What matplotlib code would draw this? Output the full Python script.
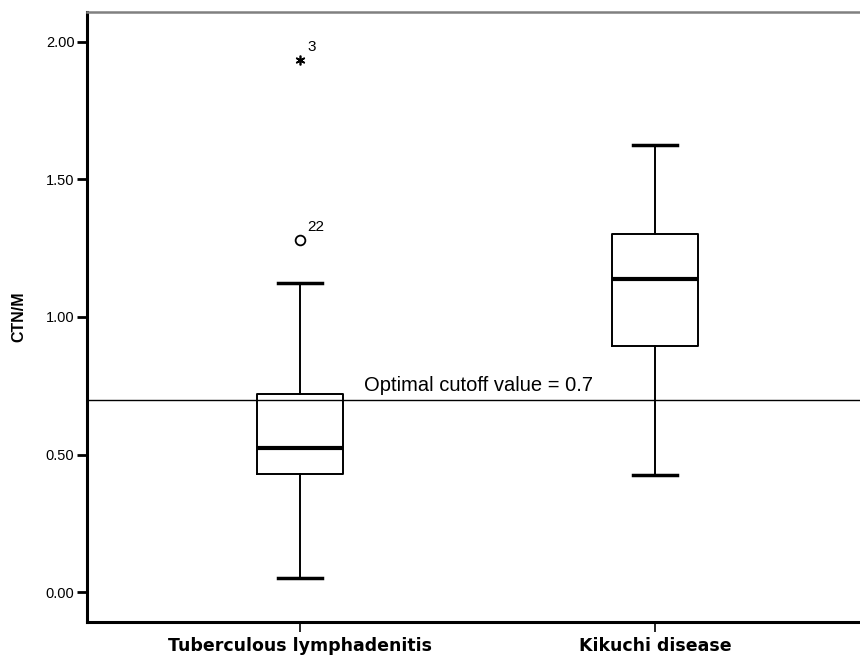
import matplotlib
matplotlib.use("Agg")
import matplotlib.pyplot as plt

categories = ["Tuberculous lymphadenitis", "Kikuchi disease"]
whislo = [0.05, 0.425]
q1 = [0.43, 0.895]
med = [0.525, 1.138]
q3 = [0.72, 1.302]
whishi = [1.125, 1.625]
outlier_vals = [1.28]          # circle outlier (case 22)
outlier_labels = ["22"]
extreme_vals = [1.935]         # star extreme (case 3)
extreme_labels = ["3"]
cutoff = 0.7
yticks = [0.0, 0.5, 1.0, 1.5, 2.0]

plt.rcParams['font.family'] = ['Liberation Sans', 'DejaVu Sans']

fig = plt.figure(figsize=(8.6, 6.6), dpi=100)
ax = fig.add_axes([87/860, 1 - 622/660, (868 - 87)/860, (622 - 12)/660])

stats = []
for i in range(2):
    stats.append(dict(whislo=whislo[i], q1=q1[i], med=med[i], q3=q3[i],
                      whishi=whishi[i], fliers=[]))
ax.bxp(stats, positions=[1, 2], widths=0.245, showfliers=False,
       boxprops=dict(color='black', linewidth=1.4),
       medianprops=dict(color='black', linewidth=3),
       whiskerprops=dict(color='black', linewidth=1.4),
       capprops=dict(color='black', linewidth=2.5),
       capwidths=0.125, manage_ticks=False)

ax.axhline(cutoff, color='black', linewidth=1.0, zorder=1)
ax.text(1.18, cutoff + 0.015, "Optimal cutoff value = 0.7", fontsize=14.5,
        ha='left', va='bottom')

for v, lab in zip(outlier_vals, outlier_labels):
    ax.plot([1], [v], marker='o', markersize=7, markerfacecolor='white',
            markeredgecolor='black', markeredgewidth=1.3, linestyle='none')
    ax.text(1.02, v + 0.02, lab, fontsize=11, ha='left', va='bottom')
for v, lab in zip(extreme_vals, extreme_labels):
    ax.plot([1], [v], marker=(6, 2, 0), markersize=7, markeredgecolor='black',
            markeredgewidth=1.2, linestyle='none')
    ax.text(1.02, v + 0.02, lab, fontsize=11, ha='left', va='bottom')

ax.set_xlim(0.4, 2.6)
ax.set_ylim(-0.109, 2.109)
ax.set_yticks(yticks)
ax.set_yticklabels([f"{t:.2f}" for t in yticks], fontsize=10.5)
ax.set_xticks([1, 2])
ax.set_xticklabels(categories, fontsize=12.5, fontweight='bold',
                   family=['DejaVu Sans'])
ax.tick_params(axis='y', direction='out', length=7, width=2, pad=2)
ax.tick_params(axis='x', direction='out', length=7, width=1.2, pad=4)
ax.set_ylabel("CTN/M", fontsize=11.5, fontweight='bold', labelpad=14)

ax.spines['left'].set_linewidth(2.2)
ax.spines['bottom'].set_linewidth(2.2)
ax.spines['top'].set_color('#808080')
ax.spines['top'].set_linewidth(1.8)
ax.spines['right'].set_visible(False)

fig.savefig("out.png", dpi=100)
